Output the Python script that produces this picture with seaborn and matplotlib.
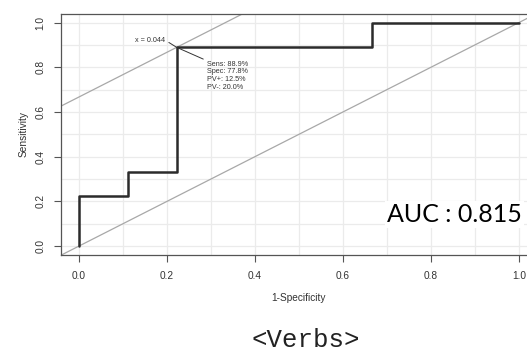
import numpy as np
import pandas as pd
import matplotlib
matplotlib.use("Agg")
import matplotlib.pyplot as plt
import seaborn as sns

# ROC curve vertices (false positive rate, true positive rate)
fpr = [0.0, 0.0, 1/9, 1/9, 2/9, 2/9, 6/9, 6/9, 1.0]
tpr = [0.0, 2/9, 2/9, 3/9, 3/9, 8/9, 8/9, 1.0, 1.0]

# Optimal cut-off and its diagnostics
cutoff = 0.044
sens = 0.889
spec = 0.778
ppv = 0.125
npv = 0.200
auc = 0.815

tick_vals = [0.0, 0.2, 0.4, 0.6, 0.8, 1.0]
tick_labels = ["0.0", "0.2", "0.4", "0.6", "0.8", "1.0"]

sns.set_style("white")
plt.rcParams["font.family"] = ["Liberation Sans", "DejaVu Sans"]

fig = plt.figure(figsize=(5.27, 3.53), dpi=100)
ax = fig.add_axes([0.1165, 0.2776, 0.9017, 0.6839])
ax.set_xlim(-0.04, 1.04)
ax.set_ylim(-0.04, 1.04)

# light grid every 0.1
grid = np.arange(0.0, 1.01, 0.1)
for g in grid:
    ax.axvline(g, color="#ebebeb", lw=0.9, zorder=0)
    ax.axhline(g, color="#ebebeb", lw=0.9, zorder=0)

# chance diagonal and tangent through the optimal point
opt_x = 1 - spec
opt_y = sens
xs = np.array([-0.1, 1.1])
ax.plot(xs, xs, color="#a8a8a8", lw=0.9, zorder=1)
ax.plot(xs, xs + (opt_y - opt_x), color="#a8a8a8", lw=0.9, zorder=1)

roc = pd.DataFrame({"fpr": fpr, "tpr": tpr})
sns.lineplot(data=roc, x="fpr", y="tpr", sort=False, estimator=None,
             color="#2b2b2b", lw=1.8, ax=ax, zorder=3)

# cut-off annotations
ax.annotate(f"x = {cutoff:.3f}", xy=(opt_x, opt_y), xytext=(-8, 5),
            textcoords="offset points", ha="right", va="center",
            fontsize=5.2, color="#333333",
            arrowprops=dict(arrowstyle="-", color="#333333", lw=0.7,
                            shrinkA=0, shrinkB=0, relpos=(1, 0.5)), zorder=4)
info = (f"Sens: {sens*100:.1f}%\nSpec: {spec*100:.1f}%\n"
        f"PV+: {ppv*100:.1f}%\nPV-: {npv*100:.1f}%")
ax.annotate(info, xy=(opt_x, opt_y), xytext=(21.5, -9.5),
            textcoords="offset points", ha="left", va="top",
            fontsize=5.2, color="#333333", linespacing=1.15,
            arrowprops=dict(arrowstyle="-", color="#333333", lw=0.7,
                            shrinkA=0, shrinkB=0, relpos=(0, 1)), zorder=4)

ax.text(0.70, 0.139, f"AUC : {auc:.3f}", fontsize=18, family=["Lato", "DejaVu Sans"],
        color="black", ha="left", va="center", zorder=5,
        bbox=dict(facecolor="white", edgecolor="none", pad=1.5))

ax.set_xticks(tick_vals)
ax.set_xticklabels(tick_labels)
ax.set_yticks(tick_vals)
ax.set_yticklabels(tick_labels, rotation=90, va="center")
ax.tick_params(axis="both", direction="out", length=5, width=0.8,
               color="#555555", labelsize=7.3, labelcolor="#333333",
               left=True, bottom=True)
ax.tick_params(axis="x", pad=6.5)
ax.tick_params(axis="y", pad=6.5)
for s in ax.spines.values():
    s.set_color("#555555")
    s.set_linewidth(0.9)

ax.set_xlabel("1-Specificity", fontsize=7.3, color="#333333", labelpad=9)
ax.set_ylabel("Sensitivity", fontsize=7.3, color="#333333", labelpad=5)

fig.text(0.581, 0.037, "<Verbs>", family=["Liberation Mono", "DejaVu Sans Mono"],
         fontsize=18.5, ha="center", va="center", color="#222222")

fig.savefig("out.png", dpi=100)
